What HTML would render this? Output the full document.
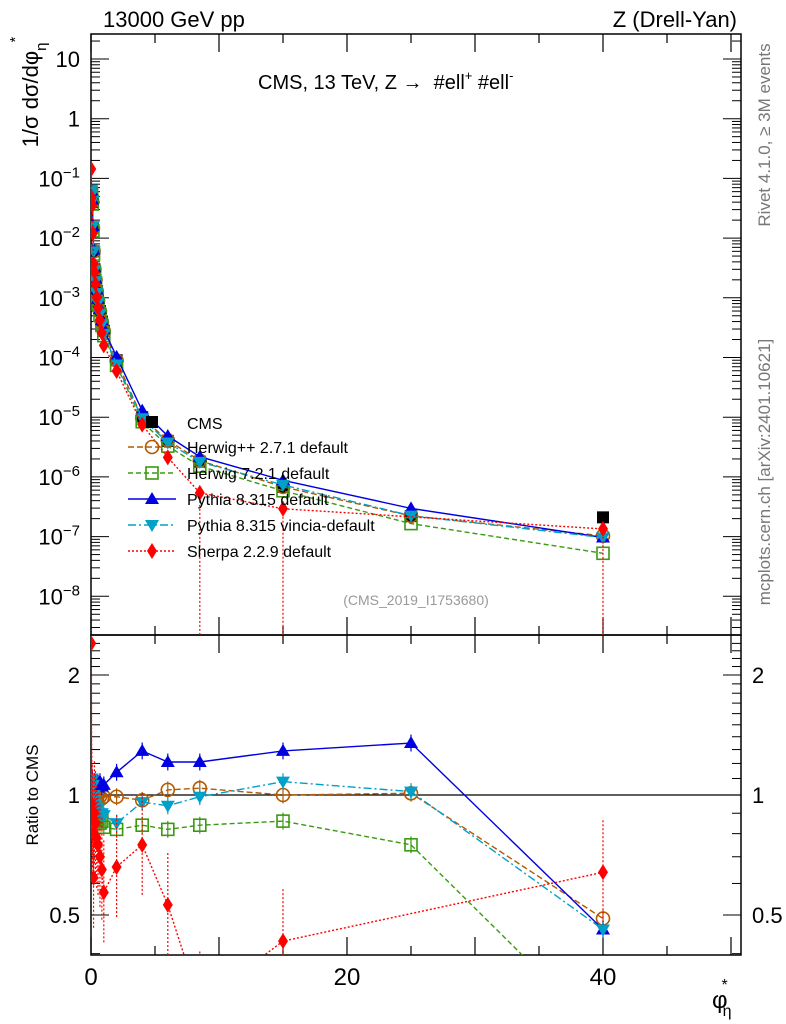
<!DOCTYPE html>
<html><head><meta charset="utf-8">
<style>
html,body{margin:0;padding:0;background:#fff;}
svg{display:block;font-family:"Liberation Sans",sans-serif;}
</style></head>
<body>
<svg id="c" width="786" height="1024" viewBox="0 0 786 1024" xmlns="http://www.w3.org/2000/svg"></svg>
<script>
const xVals=[0.02,0.06,0.1,0.15,0.2,0.27,0.35,0.45,0.55,0.7,0.85,1.0,2,4,6,8.5,15,25,40];
const cmsVals=[0.06,0.05,0.04,0.015,0.006,0.003,0.002,0.0013,0.0009,0.0006,0.0004,0.00028,9e-5,1e-5,4e-6,1.8e-6,6.8e-7,2.2e-7,2.1e-7];
const herwigPPRatio=[1.0,0.98,1.02,0.97,1.0,0.99,1.0,0.98,1.0,0.99,0.98,0.99,0.99,0.97,1.03,1.04,1.0,1.01,0.49];
const herwig7Ratio=[0.95,0.9,0.93,0.88,0.9,0.87,0.88,0.86,0.87,0.85,0.86,0.83,0.82,0.84,0.82,0.84,0.86,0.75,0.25];
const pythiaRatio=[1.05,1.08,1.1,1.06,1.07,1.08,1.05,1.06,1.07,1.08,1.05,1.06,1.14,1.29,1.21,1.21,1.29,1.35,0.46];
const vinciaRatio=[1.08,1.1,1.05,1.06,1.0,0.97,0.95,0.93,0.92,0.9,0.9,0.89,0.85,0.96,0.94,0.99,1.08,1.02,0.46];
const sherpaRatio=[2.4,0.95,0.88,0.8,0.62,0.9,0.85,0.78,0.75,0.7,0.65,0.57,0.66,0.75,0.53,0.3,0.43,null,0.64];
const xTicks=[0,20,40];
const yTopTicks=[1,0,-1,-2,-3,-4,-5,-6,-7,-8];
const ratioTicks=[2,1,0.5];

const NS="http://www.w3.org/2000/svg";
const svg=document.getElementById('c');
const L=91,R=741,T1=34,B1=635,T2=635,B2=955;
const xs=v=>L+v*12.8;
const ysTop=v=>59+(1-Math.log10(v))*59.7;
const ysR=v=>795-Math.log10(v)*398.7;
function el(tag,attrs,parent){const e=document.createElementNS(NS,tag);for(const k in attrs)e.setAttribute(k,attrs[k]);(parent||svg).appendChild(e);return e;}
function txt(s,x,y,size,attrs){const t=el('text',Object.assign({x:x,y:y,'font-size':size},attrs||{}));t.textContent=s;return t;}

const defs=el('defs',{});
const cp1=el('clipPath',{id:'cp1'},defs);el('rect',{x:L,y:T1,width:R-L,height:B1-T1},cp1);
const cp2=el('clipPath',{id:'cp2'},defs);el('rect',{x:L,y:T2,width:R-L,height:B2-T2},cp2);

const f1=el('rect',{x:L,y:T1,width:R-L,height:B1-T1,fill:'none',stroke:'#000','stroke-width':1.5});

const f2=el('rect',{x:L,y:T2,width:R-L,height:B2-T2,fill:'none',stroke:'#000','stroke-width':1.5});


for(let v=0;v<=50;v+=5){const big=v%10===0;const x=xs(v);
 for(const [t,b] of [[T1,B1],[T2,B2]]){
  el('line',{x1:x,x2:x,y1:b,y2:b-(big?18:9),stroke:'#000','stroke-width':1.2});
  el('line',{x1:x,x2:x,y1:t,y2:t+(big?18:9),stroke:'#000','stroke-width':1.2});}}
xTicks.forEach(v=>{const t=txt(String(v),xs(v),985,24,{'text-anchor':'middle'});
 });

for(let d=-9;d<=1;d++){for(let m=1;m<10;m++){const v=m*Math.pow(10,d);const y=ysTop(v);
 if(y<T1||y>B1)continue;const len=m===1?18:9;
 el('line',{x1:L,x2:L+len,y1:y,y2:y,stroke:'#000','stroke-width':1});
 el('line',{x1:R,x2:R-len,y1:y,y2:y,stroke:'#000','stroke-width':1});}}
yTopTicks.forEach(d=>{const y=ysTop(Math.pow(10,d))+8;let t;
 if(d===1)t=txt('10',80,y,22,{'text-anchor':'end'});
 else if(d===0)t=txt('1',80,y,22,{'text-anchor':'end'});
 else{t=el('text',{x:80,y:y,'font-size':22,'text-anchor':'end'});
  const a=el('tspan',{},t);a.textContent='10';const b=el('tspan',{dy:-9,'font-size':15},t);b.textContent='\u2212'+(-d);}
 });

for(let v=0.4;v<=2.5;v+=0.1){const y=ysR(v);if(y<T2||y>B2)continue;
 const big=Math.abs(v-0.5)<1e-6||Math.abs(v-1)<1e-6||Math.abs(v-2)<1e-6;const len=big?18:9;
 el('line',{x1:L,x2:L+len,y1:y,y2:y,stroke:'#000','stroke-width':1});
 el('line',{x1:R,x2:R-len,y1:y,y2:y,stroke:'#000','stroke-width':1});}
ratioTicks.forEach(v=>{const y=ysR(v)+8;
 const a=txt(String(v),80,y,22,{'text-anchor':'end'});
 const b=txt(String(v),752,y,22,{'text-anchor':'start'});});
const one=el('line',{x1:L,x2:R,y1:ysR(1),y2:ysR(1),stroke:'#000','stroke-width':1.2});


let t;
t=txt('13000 GeV pp',103,27,22);
t=txt('Z (Drell-Yan)',737,27,22,{'text-anchor':'end'});
t=el('text',{x:0,y:0,'font-size':22,transform:'translate(38,92) rotate(-90)','text-anchor':'middle'});
t.innerHTML='1/σ dσ/dφ<tspan dy="8" font-size="15">η</tspan><tspan dy="-26" font-size="15">*</tspan>';

t=el('text',{x:0,y:0,'font-size':17,transform:'translate(38,795) rotate(-90)','text-anchor':'middle'});t.textContent='Ratio to CMS';

t=el('text',{x:712,y:1008,'font-size':24});t.innerHTML='φ<tspan dx="-5" dy="8" font-size="16">η</tspan><tspan dx="-10" dy="-26" font-size="16">*</tspan>';

t=el('text',{x:258,y:89,'font-size':20});t.innerHTML='CMS, 13 TeV, Z → &#160;#ell<tspan dy="-9" font-size="13">+</tspan><tspan dy="9"> #ell</tspan><tspan dy="-9" font-size="13">-</tspan>';

t=txt('(CMS_2019_I1753680)',416,605,14,{fill:'#999','text-anchor':'middle'});
t=el('text',{x:0,y:0,'font-size':17,fill:'#777',transform:'translate(770,135) rotate(-90)','text-anchor':'middle'});t.textContent='Rivet 4.1.0, ≥ 3M events';

t=el('text',{x:0,y:0,'font-size':17,fill:'#777',transform:'translate(770,472) rotate(-90)','text-anchor':'middle'});t.textContent='mcplots.cern.ch [arXiv:2401.10621]';


function marker(g,kind,x,y,color){
 const s=6;
 if(kind==='sq')el('rect',{x:x-s,y:y-s,width:2*s,height:2*s,fill:'#000'},g);
 else if(kind==='osq')el('rect',{x:x-s,y:y-s,width:2*s,height:2*s,fill:'none',stroke:color,'stroke-width':1.6},g);
 else if(kind==='oc')el('circle',{cx:x,cy:y,r:6.5,fill:'none',stroke:color,'stroke-width':1.6},g);
 else if(kind==='tu')el('polygon',{points:`${x},${y-7} ${x-7},${y+5} ${x+7},${y+5}`,fill:color},g);
 else if(kind==='td')el('polygon',{points:`${x},${y+7} ${x-7},${y-5} ${x+7},${y-5}`,fill:color},g);
 else if(kind==='di')el('polygon',{points:`${x},${y-8} ${x-5},${y} ${x},${y+8} ${x+5},${y}`,fill:color},g);
}
const series=[
 {name:'herwigpp',ratio:herwigPPRatio,color:'#b35900',dash:'6,3',kind:'oc',label:'Herwig++ 2.7.1 default'},
 {name:'herwig7',ratio:herwig7Ratio,color:'#3a9a10',dash:'5,3',kind:'osq',label:'Herwig 7.2.1 default'},
 {name:'pythia',ratio:pythiaRatio,color:'#0000e0',dash:'',kind:'tu',label:'Pythia 8.315 default'},
 {name:'vincia',ratio:vinciaRatio,color:'#00a0c8',dash:'8,3,2,3',kind:'td',label:'Pythia 8.315 vincia-default'},
 {name:'sherpa',ratio:sherpaRatio,color:'#ff0000',dash:'2,2',kind:'di',label:'Sherpa 2.2.9 default'}];

const gc=el('g',{'clip-path':'url(#cp1)'});
xVals.forEach((x,i)=>marker(gc,'sq',xs(x),ysTop(cmsVals[i]),'#000'));

series.forEach(s=>{
 const g1=el('g',{'clip-path':'url(#cp1)'});
 const g2=el('g',{'clip-path':'url(#cp2)'});
 const p1=[],p2=[];
 xVals.forEach((x,i)=>{const r=s.ratio[i];if(r===null)return;
  p1.push([xs(x),ysTop(cmsVals[i]*r)]);p2.push([xs(x),ysR(r)]);});
 el('polyline',{points:p1.map(p=>p.join(',')).join(' '),fill:'none',stroke:s.color,'stroke-width':1.4,'stroke-dasharray':s.dash},g1);
 el('polyline',{points:p2.map(p=>p.join(',')).join(' '),fill:'none',stroke:s.color,'stroke-width':1.4,'stroke-dasharray':s.dash},g2);
 xVals.forEach((x,i)=>{const r=s.ratio[i];if(r===null)return;
  const e=s.name==='sherpa'?0.35:0.05;const px=xs(x);
  el('line',{x1:px,x2:px,y1:ysR(r*(1+e)),y2:ysR(r/(1+e)),stroke:s.color,'stroke-width':1.2,'stroke-dasharray':s.name==='sherpa'?'2,2':''},g2);
  if(s.name==='sherpa'&&x>=8)el('line',{x1:px,x2:px,y1:ysTop(cmsVals[i]*r),y2:B1,stroke:s.color,'stroke-width':1.2,'stroke-dasharray':'2,2'},g1);
  marker(g1,s.kind,px,ysTop(cmsVals[i]*r),s.color);
  marker(g2,s.kind,px,ysR(r),s.color);});
});

const lg=el('g',{});
const l0=txt('CMS',187,429,16);lg.appendChild(l0);marker(lg,'sq',152,422,'#000');
series.forEach((s,i)=>{const y=447+i*26;
 const e=el('g',{},lg);
 el('line',{x1:128,x2:176,y1:y,y2:y,stroke:s.color,'stroke-width':1.4,'stroke-dasharray':s.dash},e);
 marker(e,s.kind,152,y,s.color);
 const tt=txt(s.label,187,y+6,16);e.appendChild(tt);});
</script>
</body></html>
